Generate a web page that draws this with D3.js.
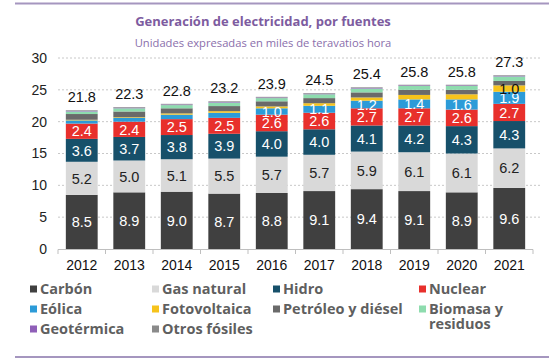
<!DOCTYPE html>
<html>
<head>
<meta charset="utf-8">
<script src="https://cdn.jsdelivr.net/npm/d3@7"></script>
<style>
  body { margin: 0; background: #fff; }
  svg { display: block; }
</style>
</head>
<body>
<div id="chart"></div>
<script>
// Data (miles de TWh)
const years = ["2012", "2013", "2014", "2015", "2016", "2017", "2018", "2019", "2020", "2021"];
const totals = [21.8, 22.3, 22.8, 23.2, 23.9, 24.5, 25.4, 25.8, 25.8, 27.3];

const carbon = [8.5, 8.9, 9.0, 8.7, 8.8, 9.1, 9.4, 9.1, 8.9, 9.6];
const gas = [5.2, 5.0, 5.1, 5.5, 5.7, 5.7, 5.9, 6.1, 6.1, 6.2];
const hidro = [3.6, 3.7, 3.8, 3.9, 4.0, 4.0, 4.1, 4.2, 4.3, 4.3];
const nuclear = [2.4, 2.4, 2.5, 2.5, 2.6, 2.6, 2.7, 2.7, 2.6, 2.7];
const eolica = [0.5, 0.6, 0.7, 0.8, 1.0, 1.1, 1.2, 1.4, 1.6, 1.9];
const fotovoltaica = [0.1, 0.1, 0.2, 0.25, 0.3, 0.4, 0.5, 0.7, 0.8, 1.0];
const petroleo = [0.9, 0.9, 0.8, 0.8, 0.8, 0.8, 0.8, 0.8, 0.7, 0.7];
const biomasa = [0.4, 0.5, 0.5, 0.55, 0.5, 0.6, 0.6, 0.6, 0.6, 0.7];
const geotermica = [0.1, 0.1, 0.1, 0.1, 0.1, 0.1, 0.1, 0.1, 0.1, 0.1];
const otrosFosiles = [0.1, 0.1, 0.1, 0.1, 0.1, 0.1, 0.1, 0.1, 0.1, 0.1];

const seriesNames = ["Carbón", "Gas natural", "Hidro", "Nuclear", "Eólica", "Fotovoltaica",
  "Petróleo y diésel", "Biomasa y residuos", "Geotérmica", "Otros fósiles"];
const seriesValues = [carbon, gas, hidro, nuclear, eolica, fotovoltaica, petroleo, biomasa, geotermica, otrosFosiles];
const seriesColors = ["#404040", "#d9d9d9", "#17506a", "#e8302c", "#2c9bd8", "#f6c31c",
  "#6a6a6a", "#8edcae", "#8f5fb8", "#8a8a8a"];
const labelColors = ["#fff", "#222", "#fff", "#fff", "#fff", "#111", "#fff", "#fff", "#fff", "#fff"];
const yTicks = [0, 5, 10, 15, 20, 25, 30];

const width = 549, height = 363;
const svg = d3.select("#chart").append("svg").attr("width", width).attr("height", height);

// frame lines
svg.append("line").attr("x1", 15).attr("x2", width).attr("y1", 3.5).attr("y2", 3.5)
  .attr("stroke", "#a596bf").attr("stroke-width", 2);
svg.append("line").attr("x1", 15).attr("x2", width).attr("y1", 357).attr("y2", 357)
  .attr("stroke", "#a596bf").attr("stroke-width", 2);

// Titles
svg.append("text").attr("x", 263).attr("y", 26).attr("text-anchor", "middle")
  .style("font-family", "'Open Sans', sans-serif").style("font-weight", 700)
  .style("font-size", "13px").attr("fill", "#7d5ca0")
  .text("Generación de electricidad, por fuentes");
svg.append("text").attr("x", 263).attr("y", 47).attr("text-anchor", "middle")
  .style("font-family", "'Open Sans', sans-serif")
  .style("font-size", "11.2px").attr("fill", "#8a6eab")
  .text("Unidades expresadas en miles de teravatios hora");

// Scales
const x = d3.scaleBand().domain(years).range([58, 533]).paddingInner(0.33).paddingOuter(0.165);
const y = d3.scaleLinear().domain([0, 30]).range([249, 58]);

// Gridlines
svg.append("g").selectAll("line").data(yTicks.slice(1)).join("line")
  .attr("x1", 58).attr("x2", 540)
  .attr("y1", d => y(d)).attr("y2", d => y(d))
  .attr("stroke", "#c8c8c8").attr("stroke-dasharray", "2,2").attr("stroke-width", 1);

// Y axis labels
svg.append("g").selectAll("text").data(yTicks).join("text")
  .attr("x", 47).attr("y", d => y(d)).attr("dy", "0.35em").attr("text-anchor", "end")
  .style("font-family", "'Liberation Sans', Arial, sans-serif").style("font-size", "14px")
  .attr("fill", "#222").text(d => d);

// Stack
const table = years.map((yr, i) => {
  const row = { year: yr };
  seriesNames.forEach((n, s) => { row[n] = seriesValues[s][i]; });
  return row;
});
const stacked = d3.stack().keys(seriesNames)(table);

const layers = svg.append("g").selectAll("g").data(stacked).join("g")
  .attr("fill", (d, i) => seriesColors[i]);
layers.selectAll("rect").data(d => d).join("rect")
  .attr("x", d => x(d.data.year))
  .attr("width", x.bandwidth())
  .attr("y", d => y(d[1]))
  .attr("height", d => y(d[0]) - y(d[1]));

// Segment labels (values >= 1)
stacked.forEach((layer, s) => {
  svg.append("g").selectAll("text").data(layer.filter(d => d[1] - d[0] >= 1)).join("text")
    .attr("x", d => x(d.data.year) + x.bandwidth() / 2)
    .attr("y", d => y((d[0] + d[1]) / 2))
    .attr("dy", "0.36em").attr("text-anchor", "middle")
    .style("font-family", "'Liberation Sans', Arial, sans-serif").style("font-size", "14.5px")
    .attr("fill", labelColors[s])
    .text(d => (d[1] - d[0]).toFixed(1));
});

// Totals
svg.append("g").selectAll("text").data(years).join("text")
  .attr("x", d => x(d) + x.bandwidth() / 2)
  .attr("y", (d, i) => y(d3.sum(seriesValues, v => v[i])) - 8)
  .attr("text-anchor", "middle")
  .style("font-family", "'Liberation Sans', Arial, sans-serif").style("font-size", "14.5px")
  .attr("fill", "#111")
  .text((d, i) => totals[i].toFixed(1));

// X axis
svg.append("line").attr("x1", 58).attr("x2", 533).attr("y1", 249.5).attr("y2", 249.5)
  .attr("stroke", "#bfbfbf");
const boundaries = years.map(d => x(d) - x.step() * x.paddingInner() / 2);
boundaries.push(533);
boundaries[0] = 58;
svg.append("g").selectAll("line").data(boundaries).join("line")
  .attr("x1", d => d).attr("x2", d => d).attr("y1", 249.5).attr("y2", 254)
  .attr("stroke", "#bfbfbf");
svg.append("g").selectAll("text").data(years).join("text")
  .attr("x", d => x(d) + x.bandwidth() / 2).attr("y", 270)
  .attr("text-anchor", "middle")
  .style("font-family", "'Liberation Sans', Arial, sans-serif").style("font-size", "14px")
  .attr("fill", "#111").text(d => d);

// Legend
const legendPos = [
  [30, 289], [152, 289], [273, 289], [419, 289],
  [30, 309], [152, 309], [273, 309], [419, 309],
  [30, 329], [152, 329]
];
const legend = svg.append("g").selectAll("g").data(seriesNames).join("g")
  .attr("transform", (d, i) => `translate(${legendPos[i][0]},${legendPos[i][1]})`);
legend.append("rect").attr("x", 0).attr("y", -3.5).attr("width", 7).attr("height", 7)
  .attr("fill", (d, i) => seriesColors[i]);
legend.append("text").attr("x", 10).attr("y", 0)
  .style("font-family", "'Open Sans', sans-serif").style("font-weight", 700)
  .style("font-size", "14.5px").attr("fill", "#5f5f5f")
  .each(function (d) {
    const t = d3.select(this);
    if (d === "Biomasa y residuos") {
      t.append("tspan").attr("x", 10).attr("dy", "0.35em").text("Biomasa y");
      t.append("tspan").attr("x", 10).attr("dy", "1.05em").text("residuos");
    } else {
      t.attr("dy", "0.35em").text(d);
    }
  });
</script>
</body>
</html>
